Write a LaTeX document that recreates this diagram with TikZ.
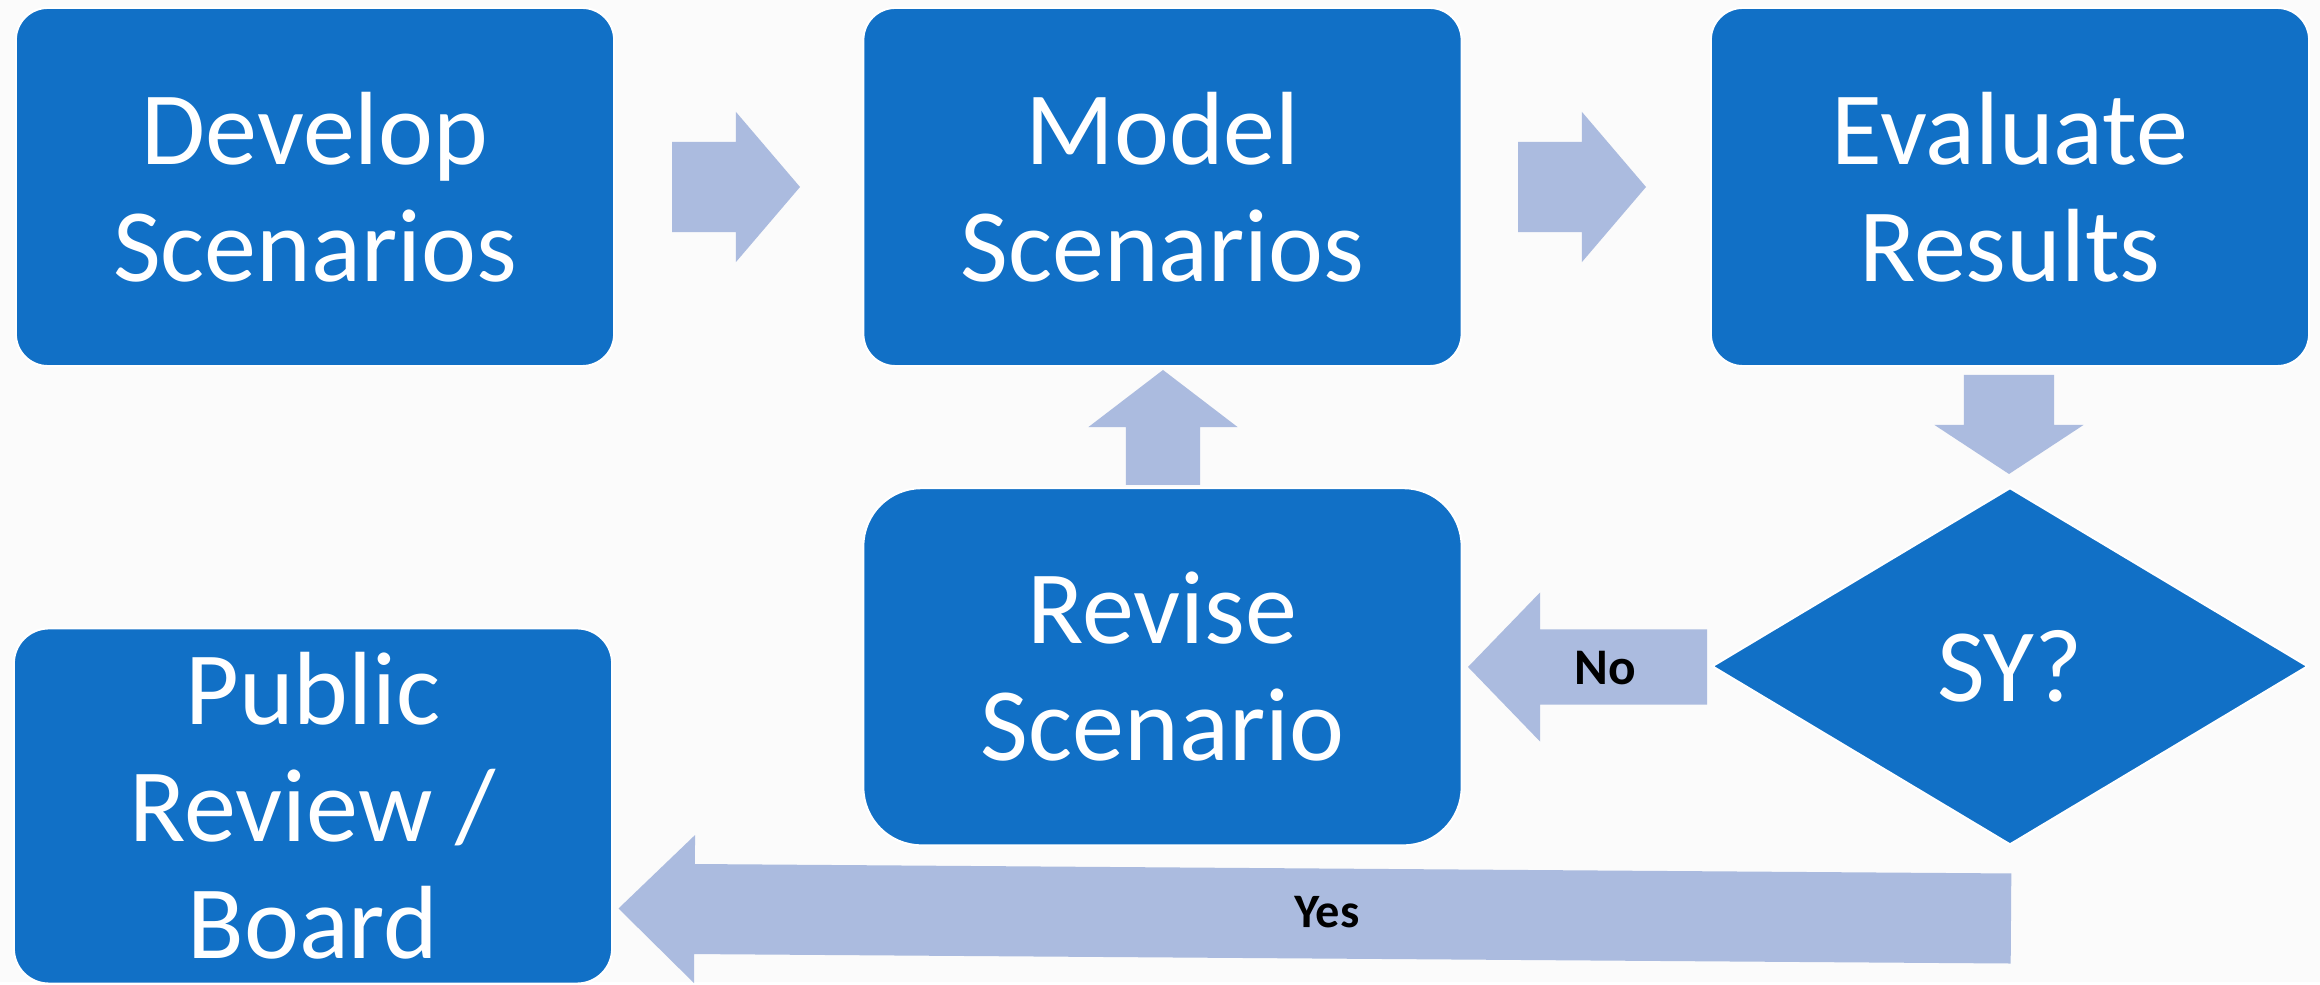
\documentclass[tikz,border=0pt]{standalone}
\usepackage{fontspec}
\setmainfont{Carlito}
\usepackage{tikz}
\usetikzlibrary{positioning,shapes.geometric,calc}
\definecolor{boxblue}{RGB}{17,112,198}
\definecolor{arrowblue}{RGB}{171,187,223}
\definecolor{bggray}{RGB}{251,251,251}

% block arrow: tail, tip, half shaft, half head, head length
\newcommand{\blockarrow}[5]{%
  \coordinate (hb) at ($#2!#5!#1$);
  \fill[arrowfill] ($#1!#3!90:#2$) -- ($(hb)!#3!90:#2$) -- ($(hb)!#4!90:#2$) -- #2
    -- ($(hb)!#4!-90:#2$) -- ($(hb)!#3!-90:#2$) -- ($#1!#3!-90:#2$) -- cycle;
}

\begin{document}
\begin{tikzpicture}[x=0.01cm,y=-0.01cm,
  every node/.style={inner sep=0pt,outer sep=0pt},
  stepbox/.style={rectangle,rounded corners=0.32cm,fill=boxblue,draw=white,line width=0.6pt,
    text=white,align=center,minimum width=5.98cm,minimum height=3.58cm,
    font=\fontsize{29.6}{33.3}\selectfont},
  decision/.style={diamond,fill=boxblue,draw=white,line width=0.6pt,text=white,
    minimum width=5.95cm,minimum height=3.56cm,font=\fontsize{29.6}{33.3}\selectfont},
  answer/.style={font=\fontsize{13.7}{16}\selectfont\bfseries,text=black},
  arrowfill/.style={fill=arrowblue},
  node distance=2.49cm
]

% the background
\fill[bggray] (0,0) rectangle (2320,982);

% the top row
\node[stepbox] (develop) at (315,187) {Develop\\Scenarios};
\node[stepbox,right=of develop] (model) {Model\\Scenarios};
\node[stepbox,right=of model] (evaluate) {Evaluate\\Results};

% the loop
\node[decision,below=1.22cm of evaluate] (sy) {SY?};
\node[stepbox,rounded corners=0.58cm,minimum height=3.57cm,below=1.22cm of model] (revise) {Revise\\Scenario};

% the way out
\node[stepbox,rounded corners=0.35cm,minimum height=3.55cm] (public) at (313,806) {Public\\Review /\\Board};

% the arrows
\coordinate (a1) at (672,187);   \coordinate (a1tip) at (800,187);
\coordinate (a2) at (1518,187);  \coordinate (a2tip) at (1646,187);
\coordinate (a3) at (2009,375);  \coordinate (a3tip) at (2009,474);
\coordinate (a4) at (1707,667);  \coordinate (a4tip) at (1468,667);
\coordinate (a5) at (1163,485);  \coordinate (a5tip) at (1163,370);
\coordinate (a6) at (2011,918.5);\coordinate (a6tip) at (618.5,908.5);
\blockarrow{(a1)}{(a1tip)}{0.45cm}{0.75cm}{0.64cm}
\blockarrow{(a2)}{(a2tip)}{0.45cm}{0.75cm}{0.64cm}
\blockarrow{(a3)}{(a3tip)}{0.45cm}{0.745cm}{0.49cm}
\blockarrow{(a4)}{(a4tip)}{0.375cm}{0.745cm}{0.72cm}
\blockarrow{(a5)}{(a5tip)}{0.37cm}{0.745cm}{0.57cm}
\blockarrow{(a6)}{(a6tip)}{0.45cm}{0.74cm}{0.76cm}

% the answers
\node[answer,font=\fontsize{14.6}{17}\selectfont\bfseries] (no) at (1605,668) {No};
\node[answer,rotate=-0.4] (yes) at (1327,912) {Yes};
\end{tikzpicture}
\end{document}
